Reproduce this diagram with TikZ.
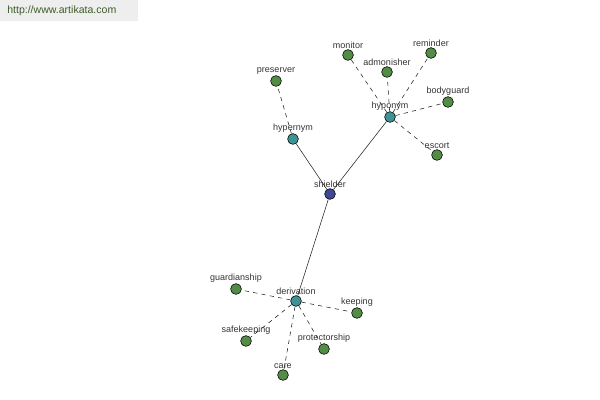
\documentclass[tikz,border=0pt]{standalone}
\usepackage{fontspec}
\setmainfont{Liberation Sans}
\usetikzlibrary{positioning, backgrounds}
\definecolor{cRoot}{RGB}{62,72,150}
\definecolor{cRel}{RGB}{62,148,148}
\definecolor{cLeaf}{RGB}{82,140,70}
\definecolor{cUrl}{RGB}{62,92,40}
\definecolor{cBar}{RGB}{238,238,238}
\tikzset{
	word/.style    ={circle, draw=black, line width=0.4pt, minimum size=0.27cm, inner sep=0pt, fill=cLeaf},
	relword/.style ={word, fill=cRel},
	rootword/.style={word, fill=cRoot},
	wlab/.style    ={font=\fontsize{6.4}{7.5}\selectfont, text=black!80, inner sep=0.6pt},
	link/.style    ={line width=0.4pt, black!85},
	dlink/.style   ={link, dash pattern=on 3pt off 3pt},
}

\begin{document}
\begin{tikzpicture}[x=0.025cm, y=-0.025cm]
	\useasboundingbox (0,0) rectangle (600,400);
	\fill[cBar] (0,0) rectangle (138,21);
	\node[anchor=west, font=\fontsize{7.5}{9}\selectfont, text=cUrl, inner sep=0pt] (url) at (7,11) {http://www.artikata.com};
	% centre word and its relations
	\node[rootword, label={[wlab]above:shielder}] (shielder) at (330,194) {};
	\node[relword, label={[wlab]above:hypernym}] (hyper) at (293,139) {};
	\node[relword, label={[wlab]above:hyponym}] (hypo) at (390,117) {};
	\node[relword, label={[wlab]above:derivation}] (deriv) at (296,301) {};
	\draw[link] (shielder) -- (hyper);
	\draw[link] (shielder) -- (hypo);
	\draw[link] (shielder) -- (deriv);
	% leaves
	\node[word, label={[wlab]above:preserver}] (preserver) at (276,81) {};
	\draw[dlink] (hyper) -- (preserver);
	\foreach \n/\x/\y in {monitor/348/55, admonisher/387/72, reminder/431/53, bodyguard/448/102, escort/437/155} {
		\node[word, label={[wlab]above:\n}] (\n) at (\x,\y) {};
		\draw[dlink] (hypo) -- (\n);
	}
	\foreach \n/\x/\y in {guardianship/236/289, keeping/357/313, safekeeping/246/341, protectorship/324/349, care/283/375} {
		\node[word, label={[wlab]above:\n}] (\n) at (\x,\y) {};
		\draw[dlink] (deriv) -- (\n);
	}
\end{tikzpicture}
\end{document}
